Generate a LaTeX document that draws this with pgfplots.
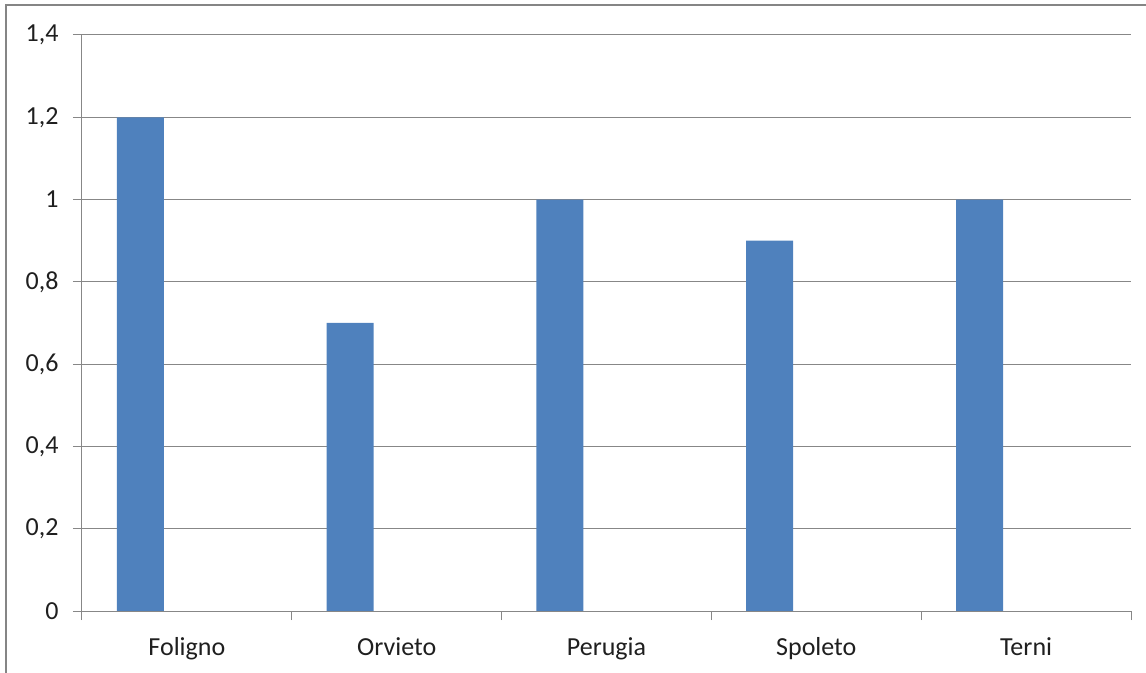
\documentclass[border=0pt]{standalone}
\usepackage{pgfplots}
\pgfplotsset{compat=1.18}
\usepackage{fontspec}
\setmainfont{Carlito}
\definecolor{barblue}{HTML}{4F81BD}
\definecolor{gridgray}{HTML}{878787}
\definecolor{framegray}{HTML}{858585}

\begin{document}
\begin{tikzpicture}
  % page area, measured from the plot's lower left corner
  \path[use as bounding box] (-82bp,-62bp) rectangle (1064bp,611bp);
  % chart frame
  \draw[framegray, line width=2.2bp] (-76bp,-80bp) -- (-76bp,606bp) -- (1080bp,606bp);
  \begin{axis}[
    at={(0,0)}, anchor=south west,
    scale only axis, width=1049bp, height=576bp,
    xmin=0, xmax=5, ymin=0, ymax=1.4,
    axis lines*=left,
    axis line style={gridgray, line width=1bp},
    tick align=outside,
    xtick={0.5,1.5,2.5,3.5,4.5},
    xticklabels={Foligno,Orvieto,Perugia,Spoleto,Terni},
    minor xtick={0,1,2,3,4,5},
    major x tick style={draw=none},
    minor x tick style={gridgray, line width=1bp},
    minor tick length=9bp,
    ytick={0,0.2,0.4,0.6,0.8,1,1.2,1.4},
    major tick length=9bp,
    y tick style={gridgray, line width=1bp},
    ymajorgrids,
    major grid style={gridgray, line width=1bp},
    /pgf/number format/use comma,
    /pgf/number format/assume math mode=true,
    tick label style={font=\fontsize{26bp}{30bp}\selectfont, text=black!88},
    xticklabel style={anchor=base, yshift=-35bp},
    yticklabel style={xshift=-11bp},
  ]
    \addplot[ybar, bar width=0.224, fill=barblue, draw=none]
      coordinates {(0.278,1.2) (1.278,0.7) (2.278,1.0) (3.278,0.9) (4.278,1.0)};
  \end{axis}
\end{tikzpicture}
\end{document}
